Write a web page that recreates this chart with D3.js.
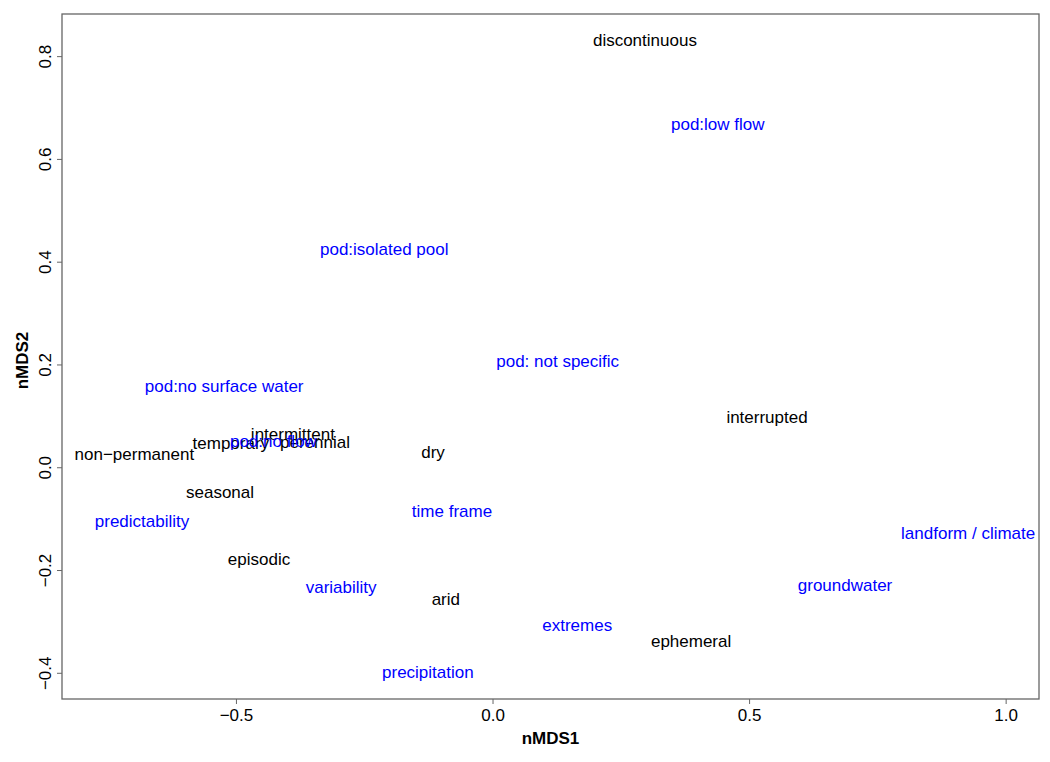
<!DOCTYPE html>
<html>
<head>
<meta charset="utf-8">
<script src="https://cdn.jsdelivr.net/npm/d3@7"></script>
<style>
  body { margin: 0; background: #fff; }
  text { font-family: "Liberation Sans", Arial, sans-serif; }
</style>
</head>
<body>
<div id="chart"></div>
<script>
// term labels (black) and "what defines the term" labels (blue)
const terms = ["discontinuous", "interrupted", "intermittent", "temporary", "perennial",
  "dry", "non\u2212permanent", "seasonal", "episodic", "arid", "ephemeral"];
const termX = [0.297, 0.535, -0.389, -0.510, -0.346, -0.116, -0.698, -0.531, -0.455, -0.091, 0.387];
const termY = [0.831, 0.097, 0.064, 0.047, 0.049, 0.029, 0.025, -0.048, -0.179, -0.257, -0.338];

const aspects = ["pod:low flow", "pod:isolated pool", "pod: not specific", "pod:no surface water",
  "pod:no flow", "predictability", "time frame", "landform / climate", "variability",
  "groundwater", "extremes", "precipitation"];
const aspectX = [0.439, -0.211, 0.127, -0.523, -0.427, -0.683, -0.079, 0.927, -0.295, 0.687, 0.165, -0.126];
const aspectY = [0.668, 0.424, 0.206, 0.158, 0.051, -0.105, -0.085, -0.128, -0.234, -0.230, -0.307, -0.399];

const xTicks = [-0.5, 0.0, 0.5, 1.0];
const yTicks = [-0.4, -0.2, 0.0, 0.2, 0.4, 0.6, 0.8];

const width = 1050, height = 762;
const margin = { left: 62, right: 11, top: 14, bottom: 63 };

const x = d3.scaleLinear()
    .domain([-0.839, 1.065])
    .range([margin.left, width - margin.right]);
const y = d3.scaleLinear()
    .domain([-0.451, 0.882])
    .range([height - margin.bottom, margin.top]);

const fmt = v => d3.format(".1f")(v).replace("-", "\u2212");

let svg = d3.select("#chart")
    .append("svg")
    .attr("width", width)
    .attr("height", height);

// box
svg.append("rect")
    .attr("x", margin.left)
    .attr("y", margin.top)
    .attr("width", width - margin.right - margin.left)
    .attr("height", height - margin.bottom - margin.top)
    .attr("fill", "none")
    .attr("stroke", "#666")
    .attr("stroke-width", 1.3);

// x axis
let xAxis = svg.append("g")
    .attr("transform", "translate(0," + (height - margin.bottom) + ")")
    .call(d3.axisBottom(x).tickValues(xTicks).tickSize(5).tickSizeOuter(0).tickFormat(fmt));
xAxis.select(".domain").remove();
xAxis.selectAll("line").attr("stroke", "#666");
xAxis.selectAll("text")
    .attr("y", 10)
    .attr("dy", "0.71em")
    .style("font-size", "17px")
    .attr("fill", "#000");

// y axis
let yAxis = svg.append("g")
    .attr("transform", "translate(" + margin.left + ",0)")
    .call(d3.axisLeft(y).tickValues(yTicks).tickSize(5).tickSizeOuter(0).tickFormat(fmt));
yAxis.select(".domain").remove();
yAxis.selectAll("line").attr("stroke", "#666");
yAxis.selectAll("text")
    .attr("x", null)
    .attr("dy", null)
    .attr("transform", "translate(-11,0) rotate(-90)")
    .style("text-anchor", "middle")
    .style("font-size", "17px")
    .attr("fill", "#000");

// axis titles
svg.append("text")
    .attr("x", (x.range()[0] + x.range()[1]) / 2)
    .attr("y", 744)
    .style("text-anchor", "middle")
    .style("font-size", "17px")
    .style("font-weight", "bold")
    .text("nMDS1");

svg.append("text")
    .attr("transform", "translate(28," + ((y.range()[0] + y.range()[1]) / 2 + 4) + ") rotate(-90)")
    .style("text-anchor", "middle")
    .style("font-size", "17px")
    .style("font-weight", "bold")
    .text("nMDS2");

// labels
let addLabels = function (names, xs, ys, color) {
    svg.append("g")
        .selectAll("text")
        .data(names)
        .enter()
        .append("text")
        .attr("x", (d, i) => x(xs[i]))
        .attr("y", (d, i) => y(ys[i]))
        .attr("dy", "0.35em")
        .style("text-anchor", "middle")
        .style("font-size", "17px")
        .attr("fill", color)
        .text(d => d);
};

addLabels(terms, termX, termY, "#000");
addLabels(aspects, aspectX, aspectY, "#0000ff");
</script>
</body>
</html>
